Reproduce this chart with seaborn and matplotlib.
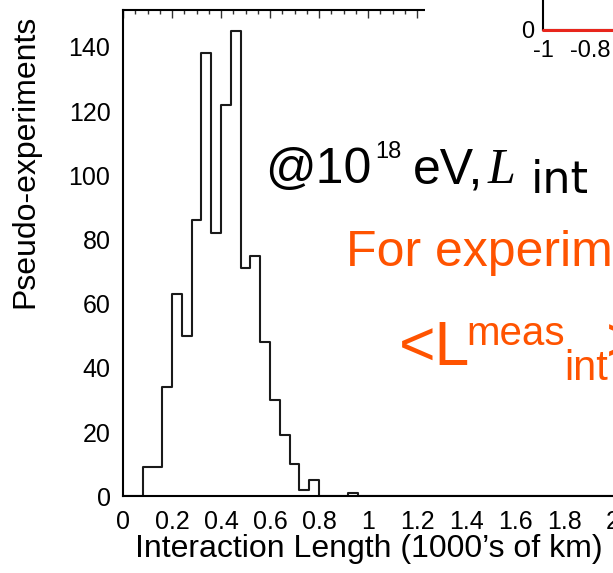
import numpy as np
import pandas as pd
import matplotlib
matplotlib.use("Agg")
import matplotlib.pyplot as plt
from matplotlib.ticker import MultipleLocator, FuncFormatter
from matplotlib.patches import Rectangle
import seaborn as sns

# ---------------- data ----------------
bin_width = 0.04
bin_start = 0.0
# counts of pseudo-experiments per 0.04 bin, starting at 0
counts = [0, 0, 9, 9, 34, 63, 50, 86, 138, 82,
          122, 145, 71, 75, 48, 30, 19, 10, 2, 5,
          0, 0, 0, 1, 0, 0, 0, 0, 0, 0,
          0, 0, 0, 0, 0, 0, 0, 0, 0, 0,
          0, 0, 0, 0, 0, 0, 0, 0, 0, 0]
x_ticks = [0, 0.2, 0.4, 0.6, 0.8, 1.0, 1.2, 1.4, 1.6, 1.8, 2.0]
y_ticks = [0, 20, 40, 60, 80, 100, 120, 140]
x_label = "Interaction Length (1000\u2019s of km)"
y_label = "Pseudo-experiments"

# inset (partially visible) red distribution
inset_x = [-1.0, -0.8, -0.6, -0.4]
inset_y = [0, 0, 0, 0]
inset_xticks = [-1, -0.8, -0.6]
inset_yticks = [0]

ORANGE = "#FF5300"

# ---------------- style ----------------
sns.set_theme(style="white")
plt.rcParams["font.family"] = ["Liberation Sans", "DejaVu Sans"]
plt.rcParams["axes.linewidth"] = 1.5
plt.rcParams["axes.unicode_minus"] = False
for key in ["text.color", "axes.labelcolor", "xtick.color", "ytick.color",
            "xtick.labelcolor", "ytick.labelcolor"]:
    plt.rcParams[key] = "black"

W, H = 613, 573
fig = plt.figure(figsize=(W / 100, H / 100), dpi=100)
fig.patch.set_facecolor("white")


def fx(x):
    return x / W


def fy(y):
    return 1 - y / H


# main axes geometry (pixels)
left_px, bottom_px, top_px = 123, 496.3, 9.5
px_per_unit = 245.0
xmax = 2.4
ax = fig.add_axes([fx(left_px), fy(bottom_px), xmax * px_per_unit / W,
                   (bottom_px - top_px) / H])

n_bins = len(counts)
centers = [bin_start + bin_width * (i + 0.5) for i in range(n_bins)]
df = pd.DataFrame({"length": centers, "n": counts})
sns.histplot(data=df, x="length", weights="n", binwidth=bin_width,
             binrange=(bin_start, bin_start + bin_width * n_bins),
             element="step", fill=False, color="#1a1a1a", linewidth=1.5,
             ax=ax)

ax.set_xlim(0, xmax)
ax.set_ylim(0, (bottom_px - top_px) / 3.21)
ax.set_xticks(x_ticks)
ax.set_yticks(y_ticks)
ax.xaxis.set_minor_locator(MultipleLocator(0.05))
ax.yaxis.set_minor_locator(MultipleLocator(5))
ax.xaxis.set_major_formatter(FuncFormatter(lambda v, p: "%g" % v))
ax.tick_params(which="both", direction="in", top=True, right=True,
               color="#333333", labelcolor="black", width=1.0)
ax.tick_params(which="major", length=6)
ax.tick_params(which="minor", length=3)
ax.tick_params(axis="y", which="major", labelsize=18, pad=9)
ax.tick_params(axis="x", which="major", labelsize=18, pad=10)
for s in ax.spines.values():
    s.set_color("black")
    s.set_linewidth(1.5)

ax.set_xlabel(x_label, fontsize=23, ha="left", va="top", color="black")
ax.xaxis.set_label_coords((135 - left_px) / (xmax * px_per_unit), -0.078)
ax.set_ylabel(y_label, fontsize=23, color="black")
ax.yaxis.set_label_coords((40 - left_px) / (xmax * px_per_unit), 0.689)

# white cover over part of the top frame (overlay box on the slide)
fig.patches.append(Rectangle((fx(425), fy(22)), fx(543) - fx(425), 22 / H,
                             transform=fig.transFigure, facecolor="white",
                             edgecolor="none", zorder=2))

# inset axes, top-right, mostly outside the canvas
ins_left, ins_bottom = 543, 30
ins_ppu = 235.0
iax = fig.add_axes([fx(ins_left), fy(ins_bottom), 2 * ins_ppu / W, 0.4],
                   zorder=3)
iax.set_facecolor("white")
sns.lineplot(x=inset_x, y=inset_y, color="#E8261C", linewidth=2.2,
             ax=iax, zorder=5, clip_on=False)
iax.set_xlim(-1, 1)
iax.set_ylim(0, 100)
iax.set_xticks(inset_xticks)
iax.set_yticks(inset_yticks)
iax.xaxis.set_minor_locator(MultipleLocator(0.05))
iax.yaxis.set_minor_locator(MultipleLocator(10))
iax.xaxis.set_major_formatter(FuncFormatter(lambda v, p: "%g" % v))
iax.tick_params(which="both", direction="in", color="#333333",
                labelcolor="black", width=1.0)
iax.tick_params(which="major", length=6, labelsize=17, pad=7)
iax.tick_params(axis="y", which="major", pad=6)
iax.tick_params(which="minor", length=3)
for s in iax.spines.values():
    s.set_color("black")
    s.set_linewidth(1.5)

# ---------------- slide overlay texts ----------------
fig.text(fx(265), fy(183), "@10", fontsize=36, color="black", va="baseline")
fig.text(fx(375), fy(158), "18", fontsize=17, color="black", va="baseline")
fig.text(fx(413), fy(183), "eV,", fontsize=36, color="black", va="baseline")
fig.text(fx(488), fy(183), "L", fontsize=36, color="black", va="baseline",
         family="Liberation Serif", style="italic")
fig.text(fx(531), fy(193), "int", fontsize=32, color="black", va="baseline",
         family="DejaVu Sans")

fig.text(fx(346), fy(266), "For experim", fontsize=36, color=ORANGE,
         va="baseline")
fig.text(fx(399), fy(365), "<L", fontsize=45, color=ORANGE, va="baseline")
fig.text(fx(466), fy(345), "meas", fontsize=29, color=ORANGE, va="baseline")
fig.text(fx(564), fy(380), "int", fontsize=30, color=ORANGE, va="baseline")
fig.text(fx(606), fy(362), ">", fontsize=45, color=ORANGE, va="baseline")

fig.savefig("out.png", dpi=100)
